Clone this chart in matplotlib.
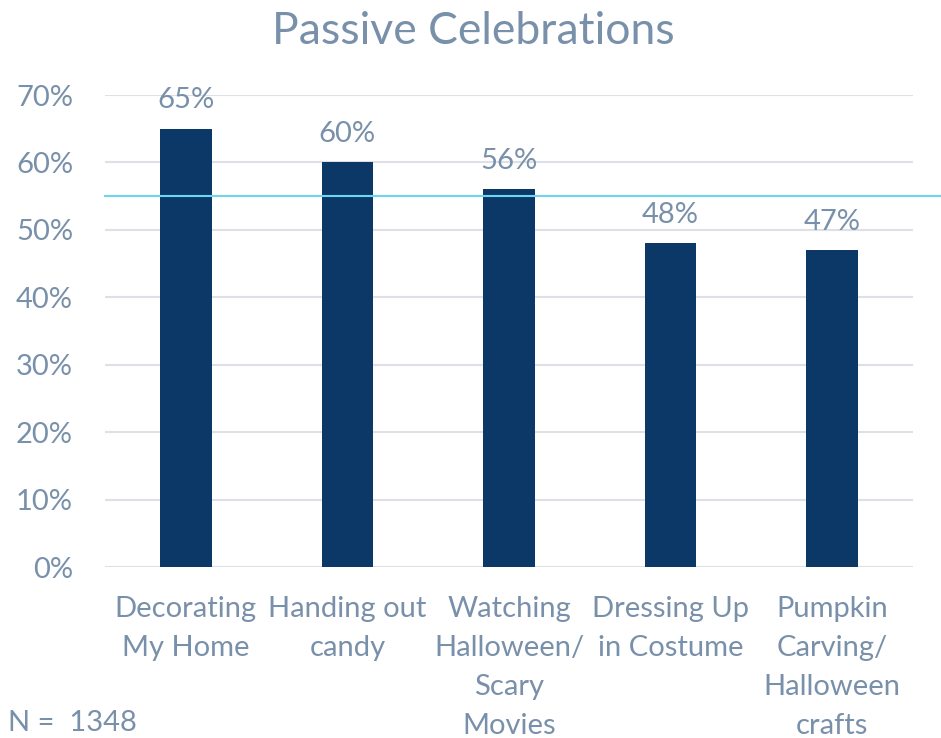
import matplotlib.pyplot as plt
from matplotlib.ticker import PercentFormatter

categories = ['Decorating\nMy Home', 'Handing out\ncandy', 'Watching\nHalloween/\nScary\nMovies',
              'Dressing Up\nin Costume', 'Pumpkin\nCarving/\nHalloween\ncrafts']
values = [65, 60, 56, 48, 47]
reference_level = 55
yticks = [0, 10, 20, 30, 40, 50, 60, 70]
sample_note = 'N =  1348'

bar_color = '#0C3868'
text_color = '#7990AA'
grid_color = '#DDE1E7'
line_color = '#6FD6F2'

plt.rcParams['font.family'] = ['Lato', 'DejaVu Sans']

fig = plt.figure(figsize=(9.41, 7.38), dpi=100)
ax = fig.add_axes([105 / 941, 171 / 738, 808 / 941, 472 / 738])

x = range(len(categories))
bars = ax.bar(x, values, width=0.32, color=bar_color, zorder=2)
for b, v in zip(bars, values):
    ax.annotate(f'{v}%', (b.get_x() + b.get_width() / 2, v), xytext=(0, 11),
                textcoords='offset points', ha='center', va='bottom',
                fontsize=21, color=text_color)

ax.set_xlim(-0.5, len(categories) - 0.5)
ax.set_ylim(0, 70)
ax.set_yticks(yticks)
ax.yaxis.set_major_formatter(PercentFormatter(decimals=0))
ax.set_xticks(list(x))
ax.set_xticklabels(categories, fontsize=21, color=text_color, linespacing=1.62, va='top')
ax.tick_params(axis='y', labelsize=21, labelcolor=text_color, length=0, pad=23)
ax.tick_params(axis='x', length=0, pad=21)
ax.grid(axis='y', color=grid_color, linewidth=1.5, zorder=0)
for s in ax.spines.values():
    s.set_visible(False)

# average reference line across the full width
ax.axhline(reference_level, xmin=0, xmax=(941 - 105) / 808, color=line_color,
           linewidth=1.5, zorder=3, clip_on=False)

fig.text(473 / 941, 1 - 31 / 738, 'Passive Celebrations', ha='center', va='center',
         fontsize=32, color=text_color)
fig.text(8 / 941, 2 / 738, sample_note, ha='left', va='bottom',
         fontsize=21, color=text_color)

fig.savefig('out.png', dpi=100)
